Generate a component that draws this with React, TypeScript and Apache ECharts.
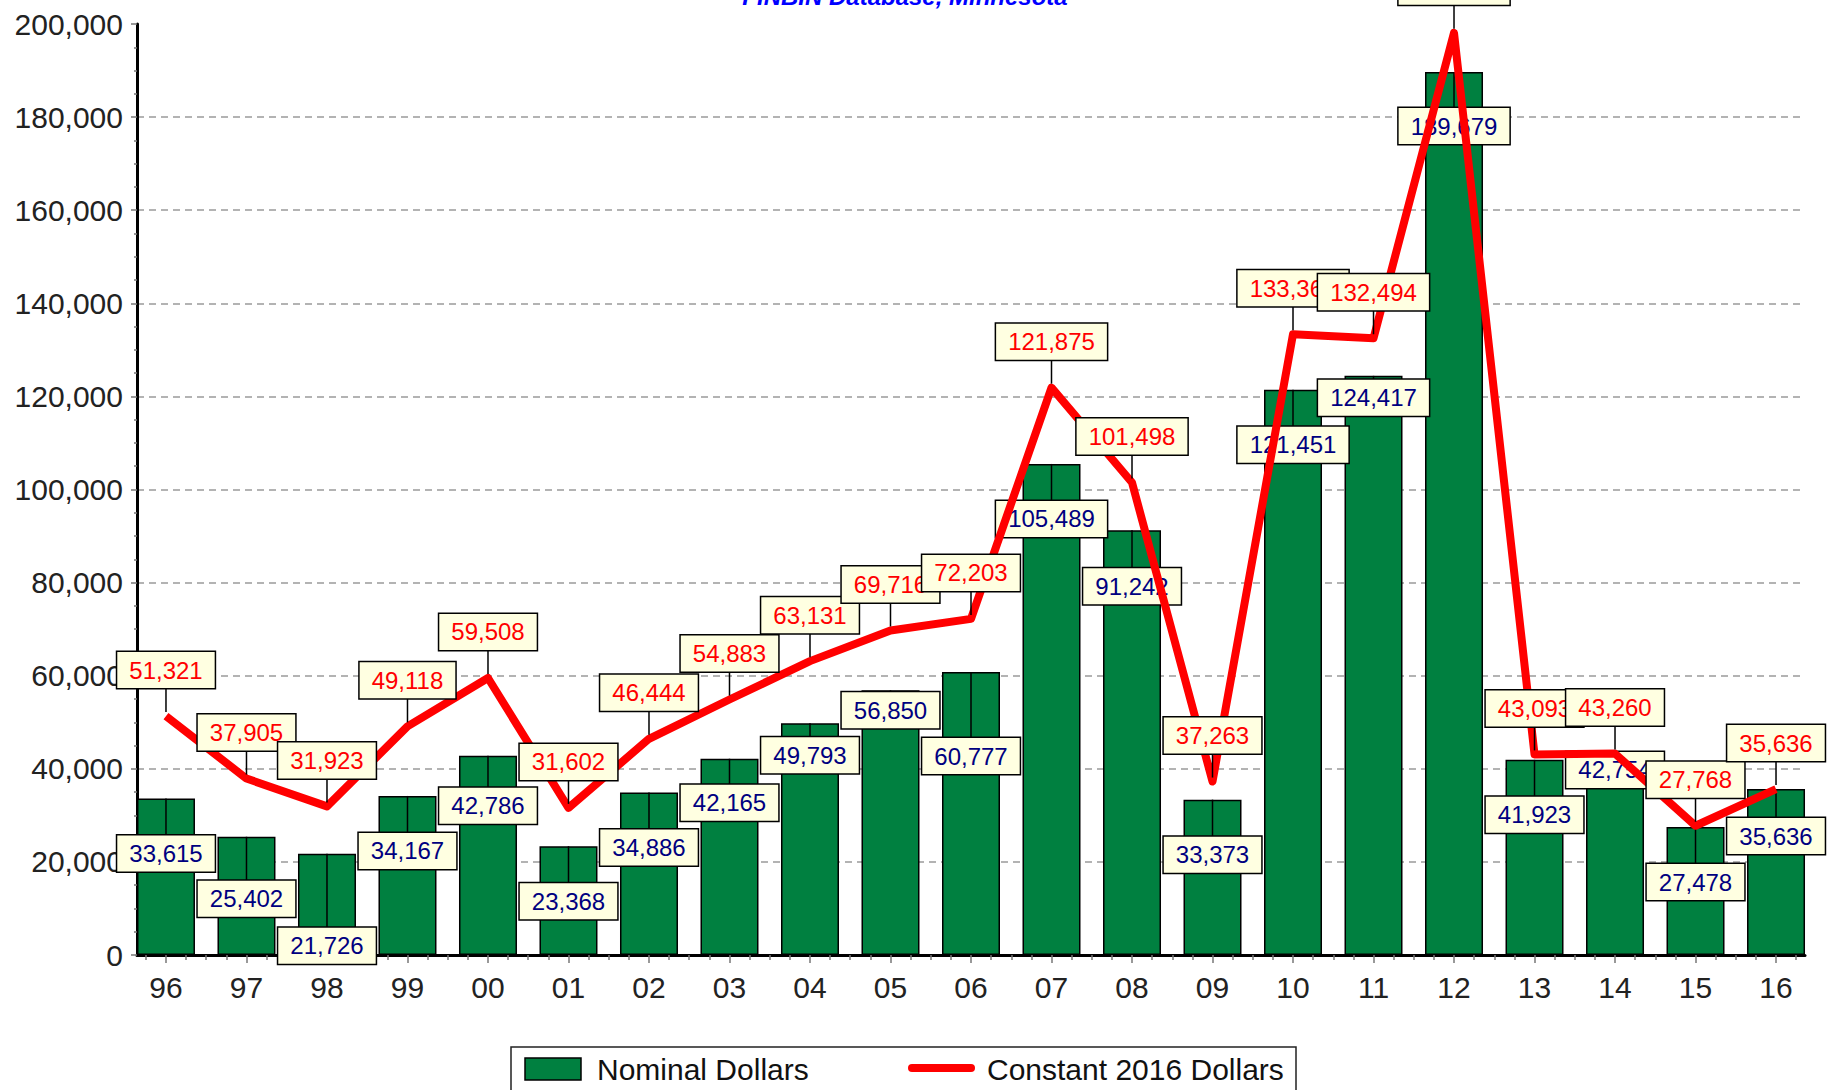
import React, { useEffect, useRef } from 'react';
import * as echarts from 'echarts';

const years = ['96', '97', '98', '99', '00', '01', '02', '03', '04', '05', '06', '07', '08', '09', '10', '11', '12', '13', '14', '15', '16'];
const nominalDollars = [33615, 25402, 21726, 34167, 42786, 23368, 34886, 42165, 49793, 56850, 60777, 105489, 91242, 33373, 121451, 124417, 189679, 41923, 42754, 27478, 35636];
const constant2016Dollars = [51321, 37905, 31923, 49118, 59508, 31602, 46444, 54883, 63131, 69716, 72203, 121875, 101498, 37263, 133368, 132494, 198100, 43093, 43260, 27768, 35636];
const yMin = 0;
const yMax = 200000;
const yInterval = 20000;
const titleText = 'FINBIN Database, Minnesota';
const seriesNames = ['Nominal Dollars', 'Constant 2016 Dollars'];

// layout only: how far (px) each nominal value box sits below its bar top (the original moved boxes to avoid overlaps)
const nominalLabelDrop = [55, 62, 92, 55, 50, 55, 55, 44, 32, 20, 84, 55, 56, 55, 55, 22, 54, 55, 14, 55, 47];
const constantLabelRise = 46;

const FONT = '"Liberation Sans", Arial, sans-serif';
const fmt = (v: number) => Math.round(v).toLocaleString('en-US');

const boxStyle = (text: string, color: string) => ({
  text,
  fill: color,
  font: `24px ${FONT}`,
  lineHeight: 24,
  align: 'center',
  verticalAlign: 'middle',
  backgroundColor: '#FFFFE1',
  borderColor: '#000',
  borderWidth: 1.5,
  padding: [6, 12, 6, 12],
});

export default function App() {
  const ref = useRef<HTMLDivElement>(null);
  useEffect(() => {
    document.body.style.margin = '0';
    if (!ref.current) return;
    const chart = echarts.init(ref.current, null, { renderer: 'svg' });
    const idx = years.map((_, i) => i);
    const quarterTicks: number[] = [];
    idx.forEach((i) => {
      [-0.5, -0.25, 0.25, 0.5].forEach((d) => {
        const t = i + d;
        if (t > -0.36 && t < 20.36 && !quarterTicks.includes(t)) quarterTicks.push(t);
      });
    });
    const option: any = {
      animation: false,
      backgroundColor: '#fff',
      grid: { left: 137, top: 24, width: 1668, height: 931 },
      xAxis: [
        {
          type: 'value',
          min: -0.36,
          max: 20.36,
          axisLine: { show: true, onZero: false, lineStyle: { color: '#000', width: 3 } },
          axisTick: { show: true, customValues: idx, length: 8, lineStyle: { color: '#777', width: 1.5 } },
          axisLabel: {
            show: true,
            customValues: idx,
            formatter: (v: number) => years[Math.round(v)] ?? '',
            margin: 17,
            fontSize: 30,
            fontFamily: FONT,
            color: '#222',
          },
          splitLine: { show: false },
        },
        {
          type: 'value',
          min: -0.36,
          max: 20.36,
          position: 'bottom',
          axisLine: { show: false, onZero: false },
          axisTick: { show: true, customValues: quarterTicks, length: 5, lineStyle: { color: '#777', width: 1.5 } },
          axisLabel: { show: false },
          splitLine: { show: false },
        },
      ],
      yAxis: {
        type: 'value',
        min: yMin,
        max: yMax,
        interval: yInterval,
        axisLine: { show: true, onZero: false, lineStyle: { color: '#000', width: 3 } },
        axisTick: { show: true, length: 6, lineStyle: { color: '#777', width: 1.5 } },
        minorTick: { show: true, splitNumber: 4, length: 3, lineStyle: { color: '#777', width: 1.5 } },
        axisLabel: { formatter: (v: number) => fmt(v), fontSize: 30, fontFamily: FONT, color: '#222', margin: 14 },
        splitLine: { show: true, showMinLine: false, showMaxLine: false, lineStyle: { color: '#9a9a9a', width: 1.5, type: [7, 5] } },
      },
      series: [
        {
          name: seriesNames[0],
          type: 'bar',
          z: 1,
          barWidth: 58,
          data: nominalDollars.map((v, i) => [i, v]),
          itemStyle: { color: '#008040', borderColor: '#000', borderWidth: 1.5 },
        },
        {
          name: 'nominalLabels',
          type: 'custom',
          z: 2,
          silent: true,
          clip: false,
          data: nominalDollars.map((v, i) => [i, v, nominalLabelDrop[i]]),
          encode: { x: 0, y: 1 },
          renderItem: (params: any, api: any) => {
            const i = api.value(0);
            const v = api.value(1);
            const drop = api.value(2);
            const [x, y] = api.coord([i, v]);
            const cy = y + drop;
            const boxTop = cy - 18;
            const children: any[] = [];
            if (boxTop > y + 1) {
              children.push({ type: 'line', shape: { x1: x, y1: y, x2: x, y2: boxTop }, style: { stroke: '#000', lineWidth: 1.5 } });
            }
            children.push({ type: 'text', x, y: cy, style: boxStyle(fmt(nominalDollars[params.dataIndex]), '#000080') });
            return { type: 'group', children };
          },
        },
        {
          name: seriesNames[1],
          type: 'line',
          z: 3,
          showSymbol: false,
          data: constant2016Dollars.map((v, i) => [i, v]),
          lineStyle: { color: '#FF0000', width: 8, join: 'round' },
          itemStyle: { color: '#FF0000' },
        },
        {
          name: 'constantLabels',
          type: 'custom',
          z: 4,
          silent: true,
          clip: false,
          data: constant2016Dollars.map((v, i) => [i, v]),
          encode: { x: 0, y: 1 },
          renderItem: (params: any, api: any) => {
            const [x, y] = api.coord([api.value(0), api.value(1)]);
            const cy = y - constantLabelRise;
            return {
              type: 'group',
              children: [
                { type: 'line', shape: { x1: x, y1: y - 4, x2: x, y2: cy + 18 }, style: { stroke: '#000', lineWidth: 1.5 } },
                { type: 'text', x, y: cy, style: boxStyle(fmt(constant2016Dollars[params.dataIndex]), '#FF0000') },
              ],
            };
          },
        },
      ],
      graphic: [
        {
          type: 'text',
          x: 905,
          y: -4,
          style: { text: titleText, fill: '#0000FF', font: `italic bold 24px ${FONT}`, align: 'center', verticalAlign: 'middle' },
        },
        {
          type: 'rect',
          shape: { x: 511, y: 1047, width: 785, height: 80 },
          style: { fill: '#fff', stroke: '#222', lineWidth: 1.5 },
        },
        {
          type: 'rect',
          shape: { x: 525, y: 1058, width: 56, height: 22 },
          style: { fill: '#008040', stroke: '#000', lineWidth: 1.5 },
        },
        {
          type: 'text',
          x: 597,
          y: 1069,
          style: { text: seriesNames[0], fill: '#111', font: `30px ${FONT}`, align: 'left', verticalAlign: 'middle' },
        },
        {
          type: 'line',
          shape: { x1: 912, y1: 1068, x2: 971, y2: 1068 },
          style: { stroke: '#FF0000', lineWidth: 8, lineCap: 'round' },
        },
        {
          type: 'text',
          x: 987,
          y: 1069,
          style: { text: seriesNames[1], fill: '#111', font: `30px ${FONT}`, align: 'left', verticalAlign: 'middle' },
        },
      ],
    };
    chart.setOption(option);
    return () => chart.dispose();
  }, []);
  return <div ref={ref} style={{ width: 1831, height: 1090 }} />;
}
